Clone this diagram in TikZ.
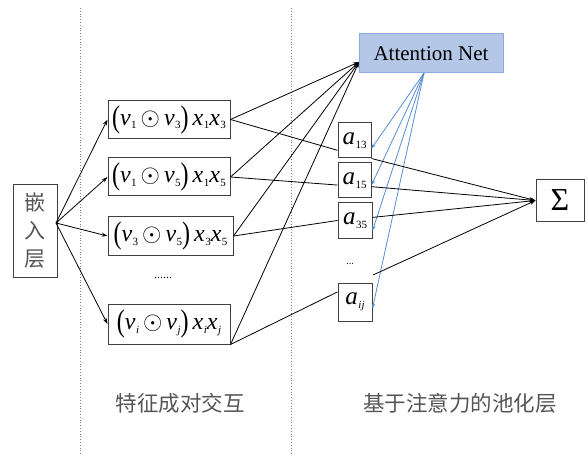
\documentclass[tikz,border=0pt]{standalone}
\usepackage{amsmath}
\usepackage{graphicx}
\usepackage{fontspec}
\setmainfont{Liberation Serif}
\newfontfamily\cjk{Noto Sans CJK SC}
\usetikzlibrary{arrows.meta,positioning,calc}
\definecolor{attnfill}{RGB}{180,199,231}
\definecolor{attnedge}{RGB}{143,170,220}
\definecolor{attnblue}{RGB}{84,141,212}
\definecolor{labelgray}{RGB}{85,85,85}
% italic symbol with a small lowered index
\newcommand\isym[2]{\textit{#1}\kern0.5pt\raisebox{-3.5pt}{\fontsize{11}{11}\selectfont #2}}
\newcommand\tallpar[1]{\raisebox{-2pt}{\scalebox{1}[1.3]{#1}}}
\newcommand\pairterm[4]{\tallpar{(}\isym{v}{#1}\,$\odot$\,\isym{v}{#2}\tallpar{)}\,\isym{x}{#3}\isym{x}{#4}}

\begin{document}
\begin{tikzpicture}[x=1pt,y=-1pt,
    box/.style={draw=black!75,line width=1pt,inner sep=0pt},
    arr/.style={-{Stealth[length=6pt,width=4pt]},line width=0.8pt},
    ln/.style={line width=0.8pt},
    bluearr/.style={-{Stealth[length=5pt,width=3.5pt]},attnblue,line width=0.8pt},
    cn/.style={font=\cjk\fontsize{21.5}{25}\selectfont,text=labelgray},
    pair/.style={box,minimum width=122pt,minimum height=38pt,font=\fontsize{24}{26}\selectfont},
    wt/.style={box,minimum width=33pt,minimum height=35pt,font=\fontsize{25}{26}\selectfont}]
    \useasboundingbox (0,0) rectangle (588,454);

    % column separators
    \draw[dotted,gray,line width=0.8pt] (80,8) -- (80,454);
    \draw[dotted,gray,line width=0.8pt] (291,8) -- (291,454);

    % embedding layer
    \node[box,minimum width=44pt,minimum height=92pt,align=center,
          font=\cjk\fontsize{21}{28}\selectfont,text=labelgray] (emb) at (35,231) {嵌\\入\\层};
    \coordinate (embout) at (56,223);

    % pairwise interactions
    \node[pair] (p13) at (169,119.5) {\pairterm{1}{3}{1}{3}};
    \node[pair] (p15) at (169,177) {\pairterm{1}{5}{1}{5}};
    \node[pair,minimum width=125pt] (p35) at (170.5,236) {\pairterm{3}{5}{3}{5}};
    \node[font=\large] (pdots) at (163,278) {......};
    \node[pair,minimum height=40pt] (pij) at (169,324) {\pairterm{\textit{i}}{\textit{j}}{\textit{i}}{\textit{j}}};

    \foreach \p in {p13,p15,p35,pij}
      \draw[arr] (embout) -- (\p.west);

    % attention net
    \node[draw=attnedge,fill=attnfill,line width=1pt,minimum width=144pt,minimum height=39pt,
          font=\fontsize{21}{24}\selectfont] (attn) at (431,53.5) {Attention Net};
    \coordinate (attnin) at (359,62);
    \coordinate (attnout) at (424,73);

    % attention weights
    \node[wt] (a13) at (354.5,140.5) {\isym{a}{13}};
    \node[wt] (a15) at (354.5,180.5) {\isym{a}{15}};
    \node[wt,minimum width=34pt] (a35) at (355,220.5) {\isym{a}{35}};
    \node[font=\normalsize] (adots) at (350,264) {...};
    \coordinate (dotsout) at (373,275);
    \node[wt,minimum width=34pt,minimum height=38pt] (aij) at (355,302) {\isym{a}{\textit{ij}}};

    % sum
    \node[box,minimum width=48pt,minimum height=41pt,font=\fontsize{32}{34}\selectfont] (sum) at (560,200.5) {Σ};

    % interactions -> attention net
    \draw[arr] (p13.east) -- (attnin);
    \draw[arr] (p15.east) -- (attnin);
    \draw[arr] (p35.east) -- (attnin);
    \draw[arr] (pij.south east) -- (attnin);

    % interactions -> weights
    \draw[ln] (p13.east) -- (a13.-150);
    \draw[ln] (p15.east) -- (a15.-165);
    \draw[ln] (p35.east) -- (a35.west);
    \draw[ln] (pij.south east) -- (aij.150);

    % attention net -> weights
    \draw[bluearr] (attnout) -- (a13.-25);
    \draw[bluearr] (attnout) -- (a15.-15);
    \draw[bluearr] (attnout) -- (a35.-30);
    \draw[bluearr] (attnout) -- (aij.-20);

    % weights -> sum
    \draw[arr] (a13.south east) -- (sum.west);
    \draw[arr] (a15.-20) -- (sum.west);
    \draw[arr] (a35.10) -- (sum.west);
    \draw[arr] (dotsout) -- (sum.west);

    % column labels
    \node[cn] (lpair) at (180,403) {特征成对交互};
    \node[cn] (lpool) at (460,403) {基于注意力的池化层};
  \end{tikzpicture}
\end{document}
